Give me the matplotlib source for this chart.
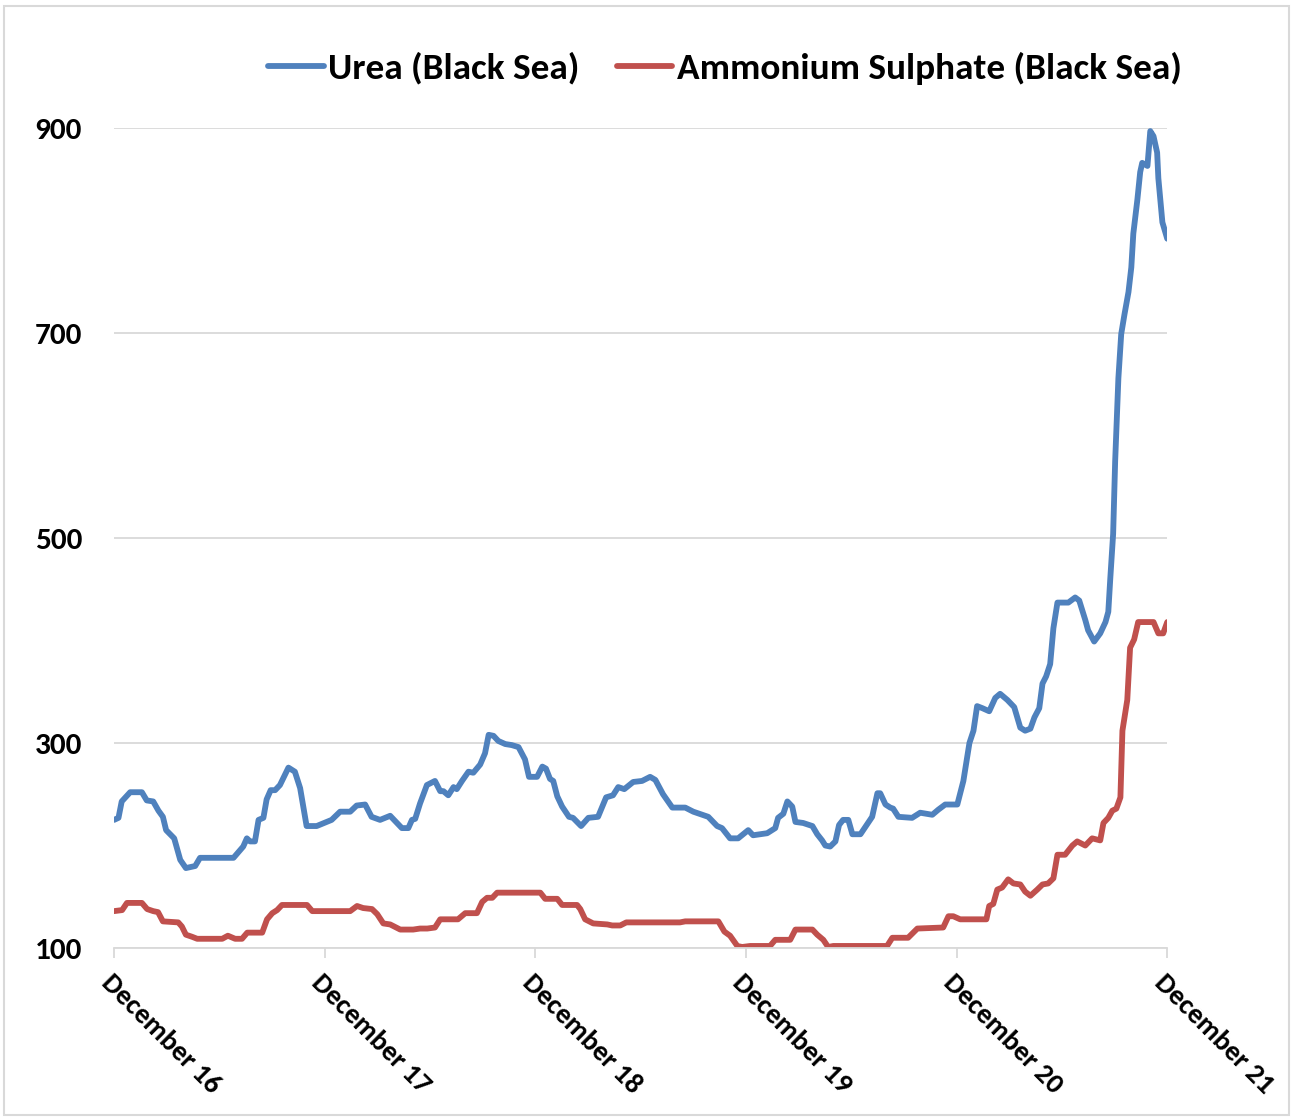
import numpy as np
import pandas as pd
import matplotlib
matplotlib.use("Agg")
import matplotlib.pyplot as plt
import matplotlib.dates as mdates
import matplotlib.transforms as mtransforms
from matplotlib.patches import Rectangle
from matplotlib.font_manager import FontProperties

plt.rcParams['font.family'] = ['Carlito', 'DejaVu Sans']
plt.rcParams['font.weight'] = 'bold'

# weekly prices, weeks counted from 1 Dec 2016
urea_weeks = [0, 1.1, 1.9, 4.0, 6.9, 8.1, 9.7, 11.0, 12.1, 12.9, 14.9, 16.4, 17.8, 20.1, 21.3,
              29.6, 32.0, 32.9, 33.7, 34.9, 35.8, 37.0, 37.8, 38.8, 39.9, 41.1, 43.2, 44.8,
              46.1, 47.7, 50.2, 53.9, 56.0, 58.5, 60.1, 62.2, 63.8, 65.9, 68.4, 69.6, 71.3,
              72.9, 73.8, 74.6, 75.8, 77.5, 79.5, 80.8, 81.6, 82.8, 84.1, 84.9, 86.2, 87.8,
              89.0, 90.7, 91.9, 92.8, 94.0, 95.2, 96.9, 98.5, 100.2, 101.8, 102.8, 104.8,
              106.1, 107.0, 108.0, 108.8, 109.8, 111.0, 112.7, 113.7, 115.7, 117.5, 119.9,
              121.9, 123.6, 124.9, 126.4, 128.6, 130.8, 132.8, 134.1, 136.0, 138.3, 141.5,
              143.5, 147.2, 149.4, 150.6, 152.6, 154.6, 157.1, 158.3, 161.8, 163.8, 164.5,
              165.8, 166.8, 168.0, 168.8, 170.7, 173.0, 174.2, 175.4, 176.2, 177.4, 178.7,
              179.6, 180.6, 181.9, 182.9, 184.9, 186.1, 187.8, 189.1, 189.8, 191.1, 192.3,
              193.0, 194.3, 197.7, 199.7, 202.7, 204.2, 205.9, 208.9, 210.4, 211.9, 212.9,
              213.8, 215.1, 216.8, 218.3, 219.5, 221.3, 223.0, 224.5, 225.7, 227.0, 228.0,
              229.2, 230.0, 230.9, 231.9, 232.7, 233.7, 236.4, 238.1, 239.1, 240.6, 241.3,
              242.8, 244.3, 245.6, 246.3, 246.8, 247.5, 248.0, 248.8, 249.5, 250.3, 251.3,
              252.0, 252.5, 253.5, 254.2, 254.7, 256.0, 256.7, 257.5, 258.4, 258.7, 259.7,
              260.9]
urea_price = [225, 227, 243, 252, 252, 244, 243, 234, 228, 215, 207, 186, 178, 180, 188,
              188, 199, 207, 204, 204, 225, 227, 245, 254, 254, 259, 276, 272,
              256, 219, 219, 225, 233, 233, 239, 240, 228, 225, 229, 224, 217,
              217, 225, 226, 241, 259, 263, 253, 253, 249, 257, 255, 263, 272,
              271, 279, 290, 308, 307, 302, 299, 298, 296, 284, 267, 267,
              277, 275, 265, 263, 248, 238, 228, 227, 219, 227, 228,
              247, 249, 257, 255, 262, 263, 267, 264, 250, 237, 237,
              233, 228, 219, 217, 207, 207, 215, 210, 212, 217, 227,
              231, 243, 238, 223, 222, 219, 211, 205, 200, 199, 204,
              220, 225, 225, 211, 211, 218, 228, 251, 251, 240, 237,
              236, 228, 227, 232, 230, 235, 240, 240, 263, 300, 312,
              336, 334, 331, 344, 348, 342, 335, 315, 312, 314, 325,
              334, 358, 365, 377, 412, 437, 437, 442, 439, 420, 410,
              399, 407, 418, 428, 461, 504, 575, 656, 699, 718, 740,
              764, 797, 830, 857, 866, 863, 897, 892, 876, 851, 808,
              792]

as_weeks = [0, 2.0, 3.2, 6.9, 8.2, 9.7, 10.9, 12.1, 15.9, 16.8, 17.8, 19.3, 20.6, 26.8,
            28.2, 30.0, 31.7, 33.0, 36.7, 37.9, 39.2, 40.4, 41.6, 47.8, 49.1, 58.5, 60.2,
            61.7, 63.9, 65.2, 66.7, 68.4, 70.9, 74.1, 75.8, 77.6, 79.5, 80.8, 85.2, 87.0,
            89.9, 91.2, 92.4, 93.7, 94.9, 105.6, 106.8, 109.8, 111.0, 114.7, 115.5, 116.7,
            118.7, 122.2, 123.4, 125.4, 126.9, 140.2, 141.5, 149.7, 151.2, 152.6, 154.4,
            155.6, 157.6, 162.5, 163.8, 167.5, 168.8, 173.0, 174.2, 175.7, 176.9, 178.2,
            183.1, 191.5, 192.8, 196.7, 199.0, 205.4, 206.7, 207.9, 209.6, 216.1, 216.8,
            217.8, 218.8, 220.0, 221.5, 222.8, 224.5, 225.7, 227.0, 228.7, 230.0, 231.4,
            232.7, 233.7, 235.6, 237.4, 238.6, 240.6, 242.3, 244.3, 245.1, 246.3, 247.3,
            248.3, 249.3, 249.8, 251.0, 251.7, 252.7, 253.7, 257.5, 258.7, 259.9, 260.9]
as_price = [136, 137, 144, 144, 138, 136, 135, 126, 125, 121, 113, 111, 109, 109,
            112, 109, 109, 115, 115, 128, 134, 137, 142, 142, 136, 136, 141,
            139, 138, 133, 124, 123, 118, 118, 119, 119, 120, 128, 128, 134,
            134, 145, 149, 149, 154, 154, 148, 148, 142, 142, 138, 128,
            124, 123, 122, 122, 125, 125, 126, 126, 116, 112, 102,
            101, 102, 102, 108, 108, 118, 118, 113, 108, 101, 102,
            102, 102, 110, 110, 119, 120, 131, 131, 128, 128, 141,
            143, 157, 159, 167, 163, 162, 155, 151, 157, 162, 163,
            168, 191, 191, 200, 204, 200, 207, 205, 222, 227, 234,
            236, 247, 312, 342, 393, 401, 418, 418, 407, 407, 418]

y_ticks = [100, 300, 500, 700, 900]

start = pd.Timestamp("2016-12-01")
urea_dates = start + pd.to_timedelta(np.array(urea_weeks) * 7, unit="D")
as_dates = start + pd.to_timedelta(np.array(as_weeks) * 7, unit="D")
year_ticks = pd.date_range("2016-12-01", "2021-12-01", freq="12MS")

fig = plt.figure(figsize=(12.93, 11.19), dpi=100)
ax = fig.add_axes([0.0882, 0.1528, 0.8144, 0.7328])

ax.plot(urea_dates, urea_price, color="#4F81BD", lw=4.2, label="Urea (Black Sea)",
        solid_joinstyle="round", solid_capstyle="round")
ax.plot(as_dates, as_price, color="#C0504D", lw=4.2, label="Ammonium Sulphate (Black Sea)",
        solid_joinstyle="round", solid_capstyle="round")

ax.set_xlim(year_ticks[0], year_ticks[-1])
ax.set_ylim(100, 900)

yfont = FontProperties(family="Carlito", weight="bold", size=22.5)
xfont = FontProperties(family="Carlito", weight="bold", size=20.5)
ax.set_yticks(y_ticks)
ax.set_yticklabels([str(v) for v in y_ticks], fontproperties=yfont)
ax.set_xticks(year_ticks)
ax.set_xticklabels([d.strftime("%B %y") for d in year_ticks], fontproperties=xfont,
                   rotation=-45, ha="left", va="top", rotation_mode="anchor")
# nudge the slanted date labels a little to the right
shift = mtransforms.ScaledTranslation(0.11, 0.02, fig.dpi_scale_trans)
for lab in ax.get_xticklabels():
    lab.set_transform(lab.get_transform() + shift)

ax.grid(axis="y", color="#d9d9d9", lw=1.3)
ax.set_axisbelow(True)
for s in ["left", "right", "top"]:
    ax.spines[s].set_visible(False)
ax.spines["bottom"].set_color("#d9d9d9")
ax.spines["bottom"].set_linewidth(1.3)

ax.tick_params(axis="y", length=0, pad=23)
ax.tick_params(axis="x", length=7, width=1.3, color="#d9d9d9", pad=9)

fig.legend(loc="center", bbox_to_anchor=(0.5605, 0.9392), ncol=2, frameon=False,
           prop=FontProperties(family="Carlito", weight="bold", size=26.8),
           handlelength=1.5, handletextpad=0.12, columnspacing=1.0)

# thin frame around the whole chart
fig.patches.append(Rectangle((0.003, 0.004), 0.994, 0.991, transform=fig.transFigure,
                             fill=False, edgecolor="#d9d9d9", lw=1.5))

fig.savefig("out.png", dpi=100)
